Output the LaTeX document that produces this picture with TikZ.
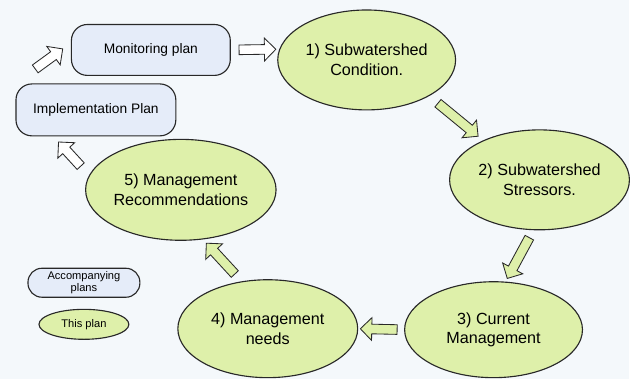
\documentclass[tikz,border=0pt]{standalone}
\usepackage{fontspec}
\setmainfont{Liberation Sans}
\usetikzlibrary{positioning, shapes.geometric, shapes.arrows}

\definecolor{bgblue}{RGB}{244,248,251}
\definecolor{ovalgreen}{RGB}{222,240,170}
\definecolor{boxblue}{RGB}{229,236,249}
\definecolor{edgegrey}{RGB}{40,40,40}

\begin{document}
\begin{tikzpicture}[
    ovalnode/.style={ellipse, draw=edgegrey, line width=0.8pt, fill=ovalgreen, inner sep=0pt, align=center, font=\fontsize{11.5}{14}\selectfont},
    plannode/.style={rectangle, rounded corners=0.4cm, draw=edgegrey, line width=0.8pt, fill=boxblue, inner sep=0pt, align=center, font=\fontsize{9.8}{12}\selectfont},
    blockarrow/.style={single arrow, draw=edgegrey, line width=0.6pt, inner sep=0pt, inner ysep=0.11cm, minimum height=0.92cm, minimum width=0.55cm, single arrow head extend=0.165cm, single arrow tip angle=90, pos=0.5, sloped, allow upside down},
    whitearrow/.style={blockarrow, fill=white},
    greenarrow/.style={blockarrow, fill=ovalgreen}
]
\fill[bgblue] (0,0) rectangle (15.75,-9.475);

\node[plannode, minimum width=3.975cm, minimum height=1.275cm](plan_mon) at (3.775,-1.25){Monitoring plan};
\node[plannode, minimum width=4cm, minimum height=1.3cm](plan_impl) at (2.4,-2.75){Implementation Plan};
\node[ovalnode, minimum width=4.45cm, minimum height=2.5cm](step_1) at (9.175,-1.5){1) Subwatershed\\Condition.};
\node[ovalnode, minimum width=4.5cm, minimum height=2.5cm](step_2) at (13.5,-4.5){2) Subwatershed\\Stressors.};
\node[ovalnode, minimum width=4.45cm, minimum height=2.4cm](step_3) at (12.35,-8.25){3) Current\\Management};
\node[ovalnode, minimum width=4.5cm, minimum height=2.45cm](step_4) at (6.7,-8.225){4) Management\\needs};
\node[ovalnode, minimum width=4.45cm, minimum height=2.525cm](step_5) at (4.525,-4.75){5) Management\\Recommendations};

\node[plannode, rounded corners=0.35cm, minimum width=2.8cm, minimum height=0.725cm, font=\fontsize{7.9}{9}\selectfont](key_acc) at (2.1,-7.075){Accompanying\\plans};
\node[ovalnode, minimum width=2.25cm, minimum height=0.75cm, font=\fontsize{7.9}{9}\selectfont](key_this)[below = 0.275cm of key_acc]{This plan};

\path (plan_impl.north west) -- (plan_mon.175) node[whitearrow, pos=0.57, minimum height=0.85cm]{};
\path (plan_mon.east) -- (step_1.173) node[whitearrow]{};
\path (step_1.330) -- (step_2.145) node[greenarrow, minimum height=1.3cm]{};
\path (step_2.263) -- (step_3.76) node[greenarrow, minimum height=1.16cm]{};
\path (step_3.west) -- (step_4.east) node[greenarrow]{};
\path (step_4.119) -- (step_5.294) node[greenarrow, minimum height=1.05cm]{};
\path (step_5.171) -- (plan_impl.212) node[whitearrow, minimum height=0.82cm]{};
\end{tikzpicture}
\end{document}
